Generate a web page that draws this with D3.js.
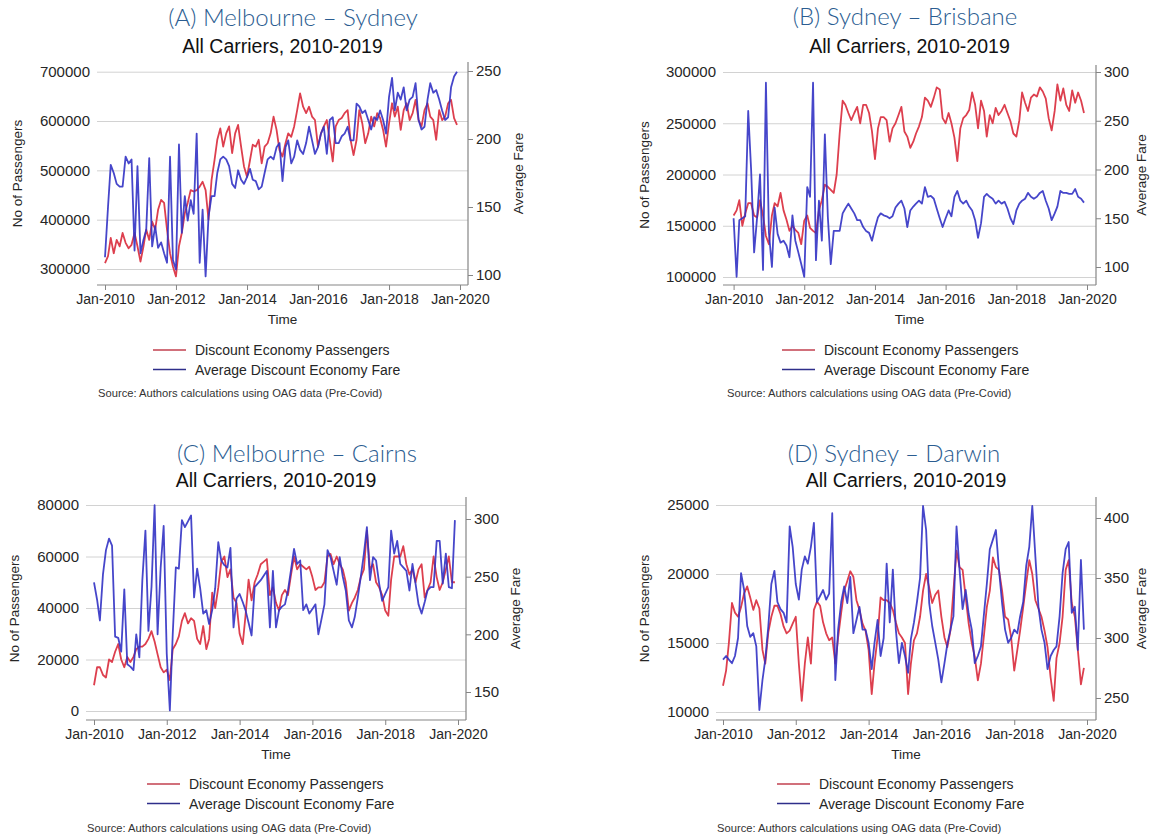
<!DOCTYPE html>
<html>
<head>
<meta charset="utf-8">
<script src="https://cdn.jsdelivr.net/npm/d3@7/dist/d3.min.js"></script>
<style>
  body { margin: 0; background: #fff; }
  svg { display: block; }
  text { font-family: "Liberation Sans", Arial, sans-serif; }
</style>
</head>
<body>
<svg id="chart" width="1150" height="837"></svg>
<script>
// ---- Monthly observations, Jan 2010 – Dec 2019 ----
const firstMonth = new Date(2010, 0, 1);
const months = d3.range(120).map(i => d3.timeMonth.offset(firstMonth, i));

const xTickLabels = ["Jan-2010", "Jan-2012", "Jan-2014", "Jan-2016", "Jan-2018", "Jan-2020"];

// Melbourne – Sydney
const melSydPassengers = [
  312000,326000,363000,332000,359000,346000,373000,353000,342000,349000,
  373000,346000,315000,346000,380000,359000,396000,380000,420000,440000,
  434000,380000,332000,305000,285000,346000,373000,413000,434000,460000,
  457000,460000,467000,477000,460000,400000,480000,521000,562000,585000,
  548000,575000,589000,535000,575000,592000,548000,508000,487000,521000,
  552000,548000,562000,514000,548000,555000,575000,609000,582000,541000,
  528000,555000,575000,568000,589000,622000,656000,629000,616000,629000,
  609000,602000,548000,575000,589000,602000,562000,518000,589000,602000,
  606000,616000,622000,562000,531000,562000,622000,595000,555000,575000,
  609000,589000,616000,606000,582000,548000,595000,636000,609000,629000,
  582000,622000,636000,602000,616000,643000,602000,589000,622000,636000,
  609000,602000,562000,622000,602000,609000,636000,643000,606000,592000
];
const melSydFare = [
  113,150,181,175,167,165,165,187,182,185,
  118,180,116,126,133,186,121,136,120,124,
  116,109,187,111,104,196,131,158,140,155,
  145,204,109,148,99,143,158,158,175,185,
  187,185,180,167,164,177,170,167,172,178,
  170,169,163,165,175,185,187,185,194,197,
  169,194,199,182,187,199,192,189,197,209,
  199,189,194,204,209,189,214,216,197,197,
  202,204,209,199,199,226,224,219,221,214,
  207,216,214,221,214,204,231,245,221,234,
  229,238,221,229,231,241,214,207,209,229,
  241,234,236,229,221,214,216,238,246,249.5
];
const melSydPassengerTicks = [300000, 400000, 500000, 600000, 700000];
const melSydFareTicks = [100, 150, 200, 250];

// Sydney – Brisbane
const sydBnePassengers = [
  160000,165000,175000,150000,162000,172000,172000,160000,158000,175000,
  160000,140000,132000,160000,172000,169000,182000,165000,156000,145000,
  150000,146000,143000,132000,155000,160000,148000,145000,143000,165000,
  175000,190000,188000,185000,182000,200000,240000,272000,268000,260000,
  253000,260000,266000,250000,268000,268000,260000,242000,215000,245000,
  256000,256000,253000,232000,245000,250000,258000,266000,242000,237000,
  226000,232000,240000,247000,256000,275000,272000,266000,275000,285000,
  283000,255000,250000,260000,250000,236000,213000,245000,255000,258000,
  263000,280000,268000,245000,272000,262000,237000,258000,250000,265000,
  258000,262000,268000,260000,252000,240000,237000,253000,280000,270000,
  262000,275000,278000,276000,285000,281000,274000,255000,243000,262000,
  288000,272000,284000,268000,262000,282000,270000,280000,272000,260000
];
const sydBneFare = [
  150,90,148,150,152,260,200,115,151,195,
  97,289,135,100,161,134,125,127,122,110,
  153,127,115,103,90,182,172,289,107,168,
  127,236,151,103,137,137,137,155,160,165,
  160,155,148,148,141,137,135,127,140,151,
  155,153,152,150,152,161,165,168,160,141,
  158,162,165,168,165,182,172,173,170,160,
  150,141,150,158,152,172,178,168,165,168,
  162,158,148,130,145,172,175,172,170,165,
  168,165,167,160,150,144,158,165,168,170,
  176,172,170,172,176,178,168,160,148,155,
  162,178,176,176,175,175,180,172,170,166
];
const sydBnePassengerTicks = [100000, 150000, 200000, 250000, 300000];
const sydBneFareTicks = [100, 150, 200, 250, 300];

// Melbourne – Cairns
const melCnsPassengers = [
  10000,17000,17000,14000,13000,20000,19000,23000,26000,20000,
  17000,21000,19000,21000,24000,25000,25000,26000,28000,31000,
  27000,22000,17000,15000,16000,12000,24000,26000,29000,35000,
  38000,34000,36000,35000,28000,26000,33000,24000,28000,46000,
  40000,48000,58000,60000,52000,55000,44000,42000,30000,26000,
  37000,51000,43000,50000,53000,57000,58000,59000,45000,48000,
  42000,39000,45000,47000,45000,53000,60000,55000,57000,56000,
  55000,56000,52000,47000,48000,48000,50000,60000,61000,57000,
  60000,57000,55000,50000,39000,42000,44000,47000,52000,55000,
  70000,55000,57000,50000,48000,45000,39000,37000,51000,60000,
  60000,60000,64000,57000,53000,55000,50000,55000,57000,44000,
  47000,50000,60000,52000,47000,50000,55000,60000,50000,50000
];
const melCnsFare = [
  245,230,212,252,273,283,277,198,197,185,
  239,174,172,169,200,180,247,290,203,241,
  312,200,258,294,183,134,200,258,257,299,
  293,298,303,232,257,240,218,221,209,221,
  240,280,264,260,258,275,206,231,235,228,
  221,210,199,241,244,247,251,255,206,255,
  206,221,224,226,238,256,274,261,264,221,
  226,218,222,226,200,213,226,273,267,255,
  243,267,250,238,212,206,215,232,250,270,
  293,247,267,264,244,229,235,241,290,270,
  281,261,258,255,238,261,244,226,218,228,
  238,241,241,281,281,244,270,241,240,299
];
const melCnsPassengerTicks = [0, 20000, 40000, 60000, 80000];
const melCnsFareTicks = [150, 200, 250, 300];

// Sydney – Darwin
const sydDrwPassengers = [
  11900,13000,15000,17900,17200,16900,17600,18600,19100,18300,
  17400,18100,17500,14500,13500,15800,16900,17700,17700,17100,
  16200,15700,15900,16400,16900,13500,10800,13500,15400,13500,
  17400,18000,17700,16500,15700,15200,15400,13500,15400,17200,
  18800,19500,20200,19800,18100,17400,16400,15900,14500,11300,
  13500,15400,18300,18100,18100,17900,17400,16500,15700,15400,
  15000,11300,13500,15200,15700,16900,18800,20000,19000,17900,
  18500,18800,16900,15400,14700,15900,18800,21700,20500,20300,
  18300,16400,15000,14000,12300,13500,15400,17600,18800,21200,
  20500,20300,18800,16900,16700,15400,13000,14500,15900,17600,
  19300,21000,20000,18100,17500,16900,15900,14700,12500,10800,
  13900,15000,16900,20300,21000,17900,16900,14500,12000,13200
];
const sydDrwFare = [
  282,285,282,279,285,300,354,340,310,301,
  304,293,240,265,282,310,345,356,330,324,
  321,313,393,376,345,332,357,368,362,376,
  396,330,335,340,332,337,404,265,307,330,
  343,329,351,304,315,326,307,307,296,274,
  296,315,285,300,362,313,357,307,279,296,
  285,271,299,313,330,350,410,390,329,310,
  296,282,263,279,295,307,318,393,357,324,
  340,320,307,279,285,293,318,345,374,382,
  390,357,329,307,296,300,307,304,318,330,
  360,376,410,368,326,307,296,274,285,290,
  293,318,354,374,380,321,326,290,365,307
];
const sydDrwPassengerTicks = [10000, 15000, 20000, 25000];
const sydDrwFareTicks = [250, 300, 350, 400];

// ---- Shared text ----
const subtitleText = "All Carriers, 2010-2019";
const legendLabels = ["Discount Economy Passengers", "Average Discount Economy Fare"];
const sourceText = "Source: Authors calculations using OAG data (Pre-Covid)";

// ---- Styling ----
const RED = "#dd3f4e";
const BLUE = "#3232c4";
const GRID = "#d2d2d2";
const AXIS = "#858585";
const INK = "#262626";
const TITLE_BLUE = "#2b5d91";

const panels = [
  { title: "(A) Melbourne – Sydney", pass: melSydPassengers, fare: melSydFare,
    passTicks: melSydPassengerTicks, fareTicks: melSydFareTicks,
    box: { left: 97, right: 468, top: 62, bottom: 285, x0: 105, x1: 460,
           yL: [269, 71.7], yR: [275, 71], titleX: 293, titleY: 26, subY: 53,
           yTitleX: 17, rTitleX: 518, legX: 153, legY: 350, srcX: 98, srcY: 397 } },
  { title: "(B) Sydney – Brisbane", pass: sydBnePassengers, fare: sydBneFare,
    passTicks: sydBnePassengerTicks, fareTicks: sydBneFareTicks,
    box: { left: 723, right: 1096, top: 65, bottom: 285, x0: 733.6, x1: 1087,
           yL: [277, 72], yR: [267, 72], titleX: 905, titleY: 25, subY: 53,
           yTitleX: 644, rTitleX: 1141, legX: 782, legY: 350, srcX: 727, srcY: 397 } },
  { title: "(C) Melbourne – Cairns", pass: melCnsPassengers, fare: melCnsFare,
    passTicks: melCnsPassengerTicks, fareTicks: melCnsFareTicks,
    box: { left: 86, right: 466, top: 497, bottom: 720, x0: 94, x1: 458,
           yL: [711, 505], yR: [692, 519], titleX: 297, titleY: 462, subY: 487,
           yTitleX: 14, rTitleX: 515, legX: 147, legY: 784, srcX: 87, srcY: 832 } },
  { title: "(D) Sydney – Darwin", pass: sydDrwPassengers, fare: sydDrwFare,
    passTicks: sydDrwPassengerTicks, fareTicks: sydDrwFareTicks,
    box: { left: 716, right: 1096, top: 497, bottom: 720, x0: 723, x1: 1087,
           yL: [712, 505], yR: [698, 518], titleX: 894, titleY: 462, subY: 487,
           yTitleX: 644, rTitleX: 1141, legX: 777, legY: 784, srcX: 717, srcY: 832 } }
];

const svg = d3.select("#chart");
const parseTick = d3.timeParse("%b-%Y");
const xTickDates = xTickLabels.map(parseTick);

function drawPanel(p) {
  const b = p.box;
  const g = svg.append("g");
  const midX = (b.left + b.right) / 2;
  const midY = (b.top + b.bottom) / 2;

  const x = d3.scaleTime().domain([xTickDates[0], xTickDates[xTickDates.length - 1]]).range([b.x0, b.x1]);
  const yL = d3.scaleLinear().domain([p.passTicks[0], p.passTicks[p.passTicks.length - 1]]).range(b.yL);
  const yR = d3.scaleLinear().domain([p.fareTicks[0], p.fareTicks[p.fareTicks.length - 1]]).range(b.yR);

  // panel heading and chart subtitle
  g.append("text").attr("x", b.titleX).attr("y", b.titleY)
    .attr("text-anchor", "middle").attr("fill", TITLE_BLUE)
    .style("font-family", "Lato, 'Open Sans', sans-serif").style("font-size", "24px")
    .style("font-weight", 300)
    .text(p.title);
  g.append("text").attr("x", midX).attr("y", b.subY)
    .attr("text-anchor", "middle").attr("fill", "#111")
    .style("font-size", "19.5px").text(subtitleText);

  // horizontal grid at left-axis ticks
  g.append("g").attr("transform", `translate(${b.left},0)`)
    .call(d3.axisLeft(yL).tickValues(p.passTicks).tickSize(-(b.right - b.left)).tickFormat(""))
    .call(s => s.select(".domain").remove())
    .call(s => s.selectAll(".tick line").attr("stroke", GRID).attr("stroke-width", 1));

  // left tick labels
  g.append("g").attr("transform", `translate(${b.left},0)`)
    .call(d3.axisLeft(yL).tickValues(p.passTicks).tickSize(0).tickPadding(7).tickFormat(d3.format("d")))
    .call(s => s.select(".domain").remove())
    .call(s => s.selectAll("text").attr("fill", INK).style("font-size", "15px")
      .style("font-family", "'Liberation Sans', Arial, sans-serif"));

  // right axis for fares
  g.append("line").attr("x1", b.right).attr("x2", b.right).attr("y1", b.top).attr("y2", b.bottom)
    .attr("stroke", AXIS).attr("stroke-width", 1.2);
  g.append("g").attr("transform", `translate(${b.right},0)`)
    .call(d3.axisRight(yR).tickValues(p.fareTicks).tickSize(5).tickPadding(3))
    .call(s => s.select(".domain").remove())
    .call(s => s.selectAll(".tick line").attr("stroke", AXIS))
    .call(s => s.selectAll("text").attr("fill", INK).style("font-size", "15px")
      .style("font-family", "'Liberation Sans', Arial, sans-serif"));

  // time axis
  g.append("line").attr("x1", b.left).attr("x2", b.right).attr("y1", b.bottom).attr("y2", b.bottom)
    .attr("stroke", AXIS).attr("stroke-width", 1.2);
  g.append("g").attr("transform", `translate(0,${b.bottom})`)
    .call(d3.axisBottom(x).tickValues(xTickDates).tickFormat((d, i) => xTickLabels[i]).tickSize(5).tickPadding(4))
    .call(s => s.select(".domain").remove())
    .call(s => s.selectAll(".tick line").attr("stroke", AXIS))
    .call(s => s.selectAll("text").attr("fill", INK).style("font-size", "14px")
      .style("font-family", "'Liberation Sans', Arial, sans-serif"));

  // axis titles
  g.append("text").attr("x", midX).attr("y", b.bottom + 39).attr("text-anchor", "middle")
    .attr("fill", INK).style("font-size", "13.5px").text("Time");
  g.append("text").attr("transform", `translate(${b.yTitleX},${midY}) rotate(-90)`)
    .attr("text-anchor", "middle").attr("dy", "0.35em")
    .attr("fill", INK).style("font-size", "13.5px").text("No of Passengers");
  g.append("text").attr("transform", `translate(${b.rTitleX},${midY}) rotate(-90)`)
    .attr("text-anchor", "middle").attr("dy", "0.35em")
    .attr("fill", INK).style("font-size", "13.5px").text("Average Fare");

  // series
  const passLine = d3.line().x((d, i) => x(months[i])).y(d => yL(d));
  const fareLine = d3.line().x((d, i) => x(months[i])).y(d => yR(d));
  g.append("path").datum(p.pass).attr("d", passLine)
    .attr("fill", "none").attr("stroke", RED).attr("stroke-width", 1.8)
    .attr("stroke-linejoin", "round");
  g.append("path").datum(p.fare).attr("d", fareLine)
    .attr("fill", "none").attr("stroke", BLUE).attr("stroke-width", 1.8)
    .attr("stroke-linejoin", "round").attr("stroke-opacity", 0.9);

  // legend
  const keyColors = ["#c2404f", "#2e2e8a"];
  legendLabels.forEach((lab, k) => {
    const ly = b.legY + k * 19.5;
    g.append("line").attr("x1", b.legX).attr("x2", b.legX + 33).attr("y1", ly).attr("y2", ly)
      .attr("stroke", keyColors[k]).attr("stroke-width", 1.3);
    g.append("text").attr("x", b.legX + 42).attr("y", ly).attr("dy", "0.36em")
      .attr("fill", INK).style("font-size", "14px").text(lab);
  });

  // source note
  g.append("text").attr("x", b.srcX).attr("y", b.srcY)
    .attr("fill", "#333").style("font-size", "11.2px").text(sourceText);
}

panels.forEach(drawPanel);
</script>
</body>
</html>
